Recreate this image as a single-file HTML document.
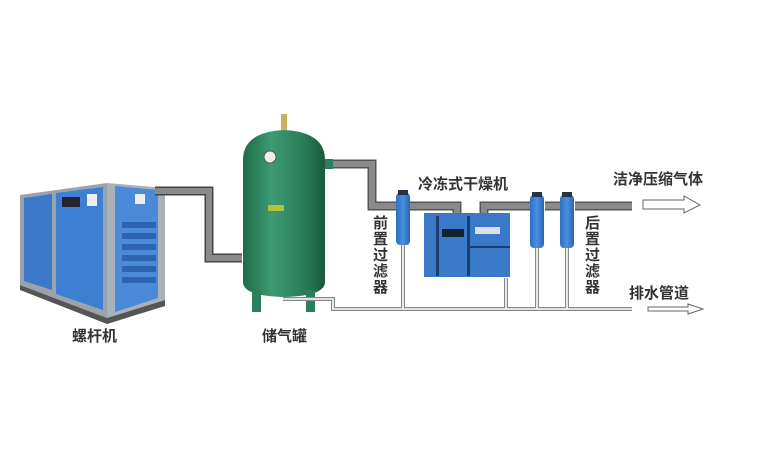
<!DOCTYPE html>
<html><head><meta charset="utf-8"><style>
body{margin:0;background:#fff;}
svg{display:block}
text{font-family:"Liberation Sans","Noto Sans CJK SC",sans-serif;fill:#333;font-size:15px;font-weight:bold}
</style></head><body>
<svg width="780" height="452" viewBox="0 0 780 452" xmlns="http://www.w3.org/2000/svg">
<defs>
<linearGradient id="tank" x1="0" x2="1"><stop offset="0" stop-color="#1f6b4a"/><stop offset="0.35" stop-color="#3c9a72"/><stop offset="0.7" stop-color="#2b805c"/><stop offset="1" stop-color="#195a3c"/></linearGradient>
<linearGradient id="blu" x1="0" x2="1"><stop offset="0" stop-color="#2f6fc0"/><stop offset="0.5" stop-color="#4a8fe0"/><stop offset="1" stop-color="#2a64b0"/></linearGradient>
</defs>
<!-- compressor -->
<polygon points="20,195 107,183 107,318 20,285" fill="#9aa3ad"/>
<polygon points="24,198 52,194 52,290 24,281" fill="#3d78c8"/>
<polygon points="56,193 103,187 103,310 56,294" fill="#3d7fd0"/>
<polygon points="107,183 165,188 165,300 107,318" fill="#a9b1b9"/>
<polygon points="115,186 158,190 158,298 115,312" fill="#4a8ad8"/>
<g fill="#2c64b0"><rect x="122" y="222" width="34" height="6"/><rect x="122" y="233" width="34" height="6"/><rect x="122" y="244" width="34" height="6"/><rect x="122" y="255" width="34" height="6"/><rect x="122" y="266" width="34" height="6"/><rect x="122" y="277" width="34" height="6"/></g>
<rect x="62" y="197" width="18" height="10" fill="#223"/>
<rect x="87" y="194" width="10" height="12" fill="#eee"/>
<rect x="135" y="194" width="10" height="10" fill="#eee"/>
<polygon points="20,285 107,318 165,300 165,306 107,324 20,290" fill="#555"/>
<!-- pipe compressor-tank -->
<path d="M155,191 H209 V258 H242" fill="none" stroke="#444" stroke-width="9"/>
<path d="M155,191 H209 V258 H242" fill="none" stroke="#8a8a8a" stroke-width="6"/>
<!-- tank -->
<rect x="281" y="114" width="6" height="16" fill="#c8b060"/>
<path d="M243,160 Q243,132 284,130 Q325,132 325,160 V282 Q325,296 284,297 Q243,296 243,282 Z" fill="url(#tank)"/>
<circle cx="270" cy="157" r="6" fill="#eee" stroke="#555"/>
<rect x="268" y="205" width="16" height="6" fill="#b8c040"/>
<rect x="252" y="290" width="9" height="22" fill="#2b805c"/>
<rect x="306" y="290" width="9" height="22" fill="#2b805c"/>
<rect x="325" y="159" width="8" height="10" fill="#2b805c"/>
<!-- outlet pipe -->
<path d="M333,164 H372 V206 H398 M410,206 H457 V215 M484,215 V206 H530 M545,206 H560 M575,206 H632" fill="none" stroke="#555" stroke-width="9"/>
<path d="M333,164 H372 V206 H398 M410,206 H457 V215 M484,215 V206 H530 M545,206 H560 M575,206 H632" fill="none" stroke="#8a8a8a" stroke-width="6"/>
<!-- drains -->
<g fill="none" stroke="#888" stroke-width="4"><path d="M283,299 H333 V309 H632"/><path d="M403,245 V309 M506,278 V309 M537,248 V309 M567,248 V309"/></g>
<g fill="none" stroke="#fff" stroke-width="1.6"><path d="M283,299 H333 V309 H632"/><path d="M403,245 V309 M506,278 V309 M537,248 V309 M567,248 V309"/></g>
<!-- filters -->
<g fill="url(#blu)"><rect x="396" y="193" width="14" height="52" rx="4"/><rect x="530" y="195" width="14" height="53" rx="4"/><rect x="560" y="195" width="14" height="53" rx="4"/></g>
<g fill="#234"><rect x="398" y="190" width="10" height="5"/><rect x="532" y="192" width="10" height="5"/><rect x="562" y="192" width="10" height="5"/></g>
<!-- dryer -->
<rect x="424" y="213" width="86" height="64" fill="#3a78c8"/>
<rect x="436" y="216" width="3" height="60" fill="#1c3d70"/><rect x="467" y="216" width="3" height="60" fill="#1c3d70"/><rect x="470" y="246" width="40" height="2" fill="#1c3d70"/>
<rect x="442" y="229" width="22" height="8" fill="#123"/>
<rect x="475" y="227" width="25" height="7" fill="#dde"/>
<!-- arrows -->
<path d="M643,200 H684 V196 L700,205 L684,213 V209 H643 Z" fill="#fff" stroke="#666" stroke-width="1"/>
<path d="M648,307 H688 V304 L703,309 L688,314 V311 H648 Z" fill="#fff" stroke="#666" stroke-width="1"/>
<!-- labels -->
<text x="72" y="341">螺杆机</text>
<text x="262" y="341">储气罐</text>
<text x="418" y="189">冷冻式干燥机</text>
<text x="613" y="184">洁净压缩气体</text>
<text x="629" y="298">排水管道</text>
<g><text x="373" y="228">前</text><text x="373" y="244">置</text><text x="373" y="260">过</text><text x="373" y="276">滤</text><text x="373" y="292">器</text></g>
<g><text x="585" y="228">后</text><text x="585" y="244">置</text><text x="585" y="260">过</text><text x="585" y="276">滤</text><text x="585" y="292">器</text></g>
</svg>
</body></html>
